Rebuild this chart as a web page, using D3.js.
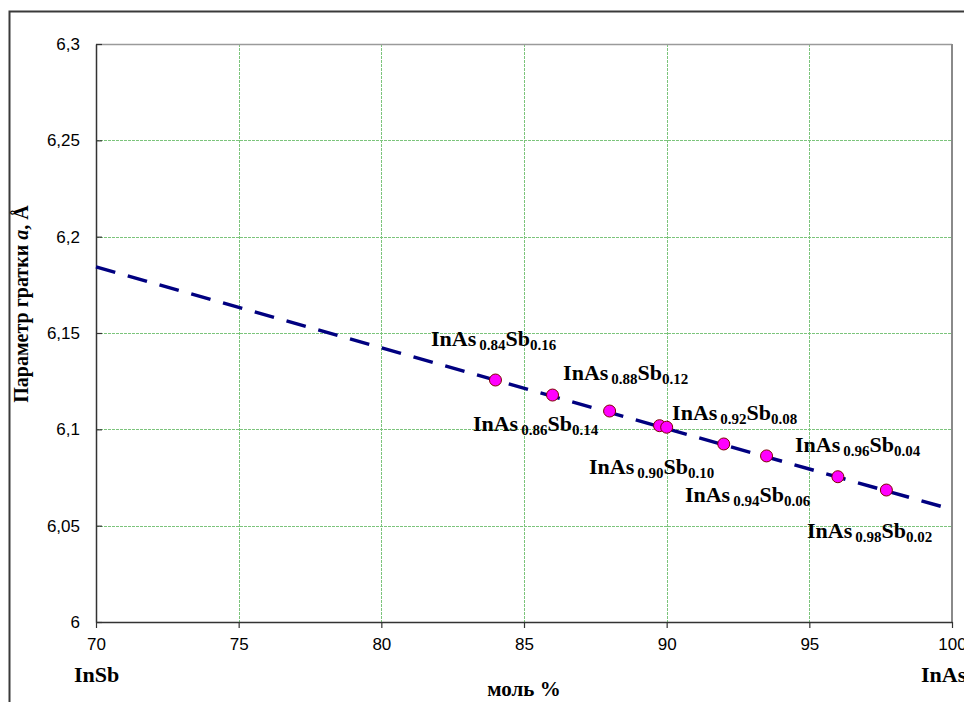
<!DOCTYPE html>
<html><head><meta charset="utf-8">
<script src="https://cdn.jsdelivr.net/npm/d3@7"></script>
<style>
html,body{margin:0;padding:0;background:#fff;overflow:hidden}
svg{display:block}
</style></head>
<body>
<svg id="c" width="964" height="702"></svg>
<script>
// ---- data ----
const pointX = [84, 86, 88, 89.75, 90, 92, 93.5, 96, 97.7];
const pointY = [6.1256, 6.1178, 6.1095, 6.1019, 6.1011, 6.0924, 6.0862, 6.0754, 6.0685];
const lineX = [70, 100];
const lineY = [6.1843, 6.0584];
const xTicks = [70, 75, 80, 85, 90, 95, 100];
const yTicks = [6, 6.05, 6.1, 6.15, 6.2, 6.25, 6.3];
const yTickLabels = ["6", "6,05", "6,1", "6,15", "6,2", "6,25", "6,3"];
const labelAs = ["0.84", "0.88", "0.86", "0.92", "0.90", "0.94", "0.96", "0.98"];
const labelSb = ["0.16", "0.12", "0.14", "0.08", "0.10", "0.06", "0.04", "0.02"];
const labelX = [81.74, 86.37, 83.21, 90.19, 87.28, 90.64, 94.50, 94.92];
const labelY = [6.1433, 6.1256, 6.0991, 6.1049, 6.0768, 6.0623, 6.0882, 6.0436];

// ---- layout ----
const svg = d3.select("#c");
const L = 96, R = 952, T = 44, B = 622;
const x = d3.scaleLinear().domain([70, 100]).range([L, R]);
const y = d3.scaleLinear().domain([6, 6.3]).range([B, T]);

// chart area border
svg.append("rect").attr("x", 9.5).attr("y", 11.5).attr("width", 1200).attr("height", 1200)
  .attr("fill", "#fff").attr("stroke", "#3a3a3a").attr("stroke-width", 2);

// grid
const grid = svg.append("g").attr("stroke", "#7cc47c").attr("stroke-width", 1).attr("stroke-dasharray", "3,1");
grid.selectAll("line.v").data(xTicks.filter(d => d > 70 && d < 100)).enter().append("line")
  .attr("x1", d => Math.round(x(d)) + 0.5).attr("x2", d => Math.round(x(d)) + 0.5)
  .attr("y1", T).attr("y2", B);
grid.selectAll("line.h").data(yTicks.filter(d => d > 6 && d < 6.3)).enter().append("line")
  .attr("y1", d => Math.round(y(d)) + 0.5).attr("y2", d => Math.round(y(d)) + 0.5)
  .attr("x1", L).attr("x2", R);

// plot border top/right
svg.append("line").attr("x1", L).attr("x2", R).attr("y1", T + 0.5).attr("y2", T + 0.5)
  .attr("stroke", "#9a9a9a").attr("stroke-width", 1.5);
svg.append("line").attr("x1", R).attr("x2", R).attr("y1", T).attr("y2", B)
  .attr("stroke", "#8a8a8a").attr("stroke-width", 2);

// axes
const yAxis = d3.axisLeft(y).tickValues(yTicks).tickSizeInner(-6).tickSizeOuter(0)
  .tickFormat((d, i) => yTickLabels[i]).tickPadding(16);
const gy = svg.append("g").attr("transform", `translate(${L},0)`).call(yAxis);
const xAxis = d3.axisBottom(x).tickValues(xTicks).tickSizeInner(6).tickSizeOuter(0).tickPadding(10);
const gx = svg.append("g").attr("transform", `translate(0,${B})`).call(xAxis);
[gy, gx].forEach(g => {
  g.select(".domain").attr("stroke", "#333").attr("stroke-width", 1.5);
  g.selectAll(".tick line").attr("stroke", "#333").attr("stroke-width", 1.2);
  g.selectAll(".tick text").attr("font-family", "Liberation Sans, Arial, sans-serif")
    .attr("font-size", 17).attr("fill", "#000");
});
gy.selectAll(".tick text").attr("x", -16);

// dashed line
const line = d3.line().x((d, i) => x(lineX[i])).y((d, i) => y(lineY[i]));
svg.append("path").attr("d", line(lineX)).attr("fill", "none")
  .attr("stroke", "#000080").attr("stroke-width", 3.5).attr("stroke-dasharray", "20,13");

// points
svg.selectAll("circle.p").data(pointX).enter().append("circle")
  .attr("cx", (d, i) => x(d)).attr("cy", (d, i) => y(pointY[i])).attr("r", 6)
  .attr("fill", "#ff00ff").attr("stroke", "#800000").attr("stroke-width", 1);

// labels
const serif = "Liberation Serif, Times New Roman, serif";
labelAs.forEach((a, i) => {
  const t = svg.append("text").attr("x", x(labelX[i])).attr("y", y(labelY[i]))
    .attr("font-family", serif).attr("font-weight", "bold").attr("fill", "#000");
  t.append("tspan").attr("font-size", 22).text("InAs");
  t.append("tspan").attr("font-size", 15).attr("dx", 3).attr("dy", 4).text(a);
  t.append("tspan").attr("font-size", 22).attr("dy", -4).text("Sb");
  t.append("tspan").attr("font-size", 15).attr("dy", 4).text(labelSb[i]);
});

// axis titles
svg.append("text").attr("x", 74).attr("y", 682).attr("font-family", serif)
  .attr("font-weight", "bold").attr("font-size", 22).text("InSb");
svg.append("text").attr("x", 921).attr("y", 682).attr("font-family", serif)
  .attr("font-weight", "bold").attr("font-size", 22).text("InAs");
svg.append("text").attr("x", (L + R) / 2).attr("y", 696).attr("text-anchor", "middle")
  .attr("font-family", serif).attr("font-weight", "bold").attr("font-size", 21).text("моль %");
const yt = svg.append("text").attr("transform", "translate(28,304) rotate(-90)")
  .attr("text-anchor", "middle").attr("font-family", serif).attr("font-weight", "bold").attr("font-size", 20);
yt.append("tspan").text("Параметр гратки ");
yt.append("tspan").attr("font-style", "italic").text("a");
yt.append("tspan").text(", Å");
</script>
</body></html>
